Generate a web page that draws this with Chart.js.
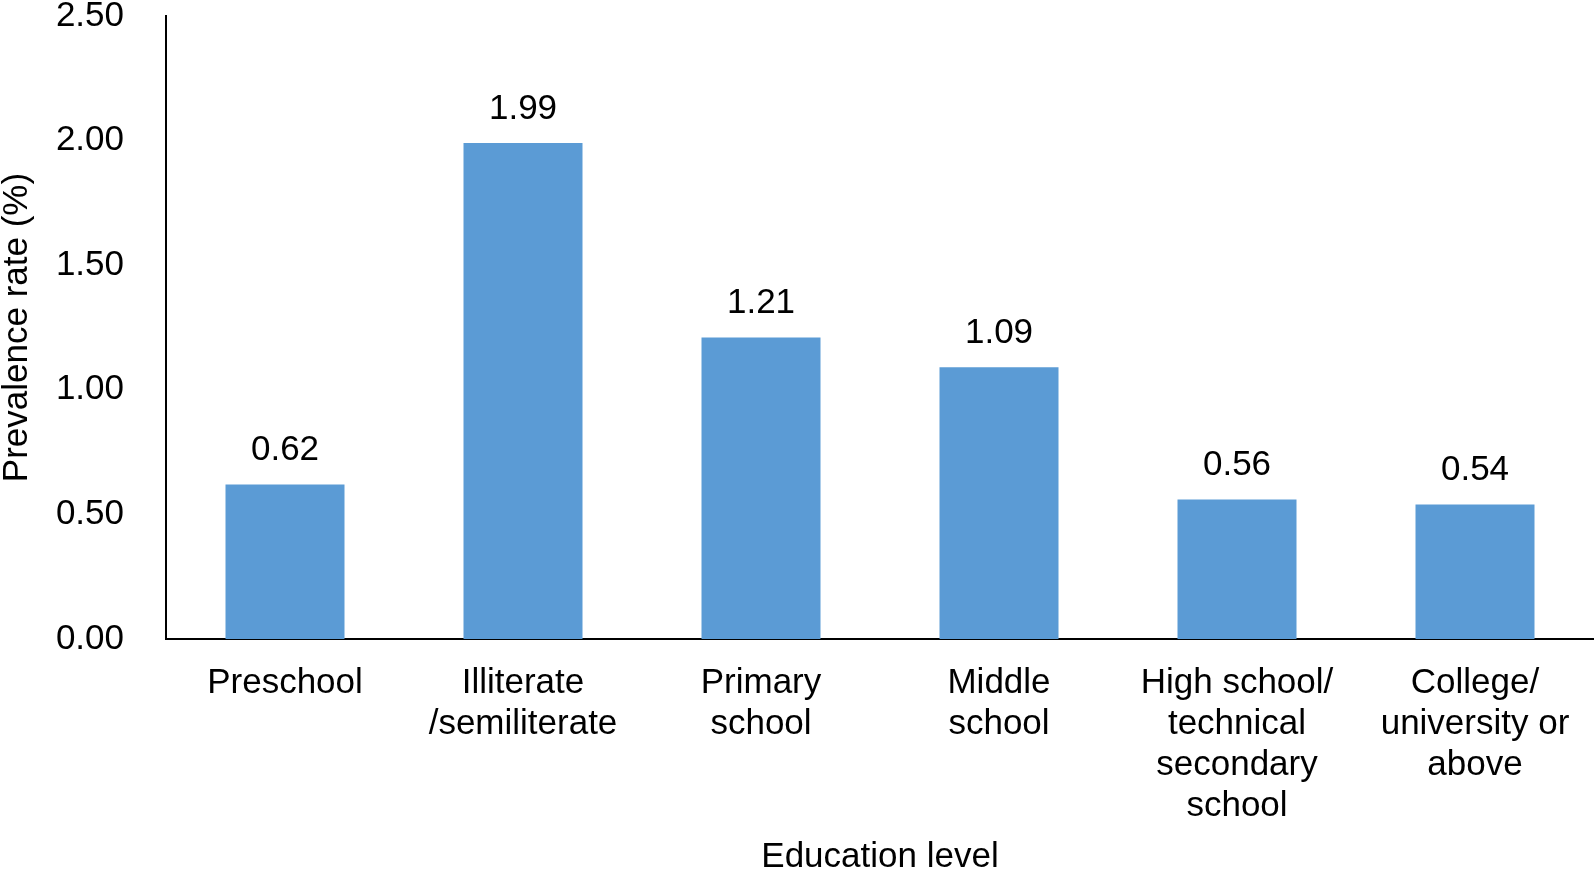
<!DOCTYPE html>
<html>
<head>
<meta charset="utf-8">
<script src="https://cdn.jsdelivr.net/npm/chart.js@4.4.1/dist/chart.umd.min.js"></script>
<style>
  html, body { margin: 0; padding: 0; background: #fff; }
  #wrap { width: 1594px; height: 870px; }
</style>
</head>
<body>
<div id="wrap"><canvas id="myChart" width="1594" height="870"></canvas></div>
<script>
// dữ liệu của biểu đồ
const categories = [
  ["Preschool"],
  ["Illiterate", "/semiliterate"],
  ["Primary", "school"],
  ["Middle", "school"],
  ["High school/", "technical", "secondary", "school"],
  ["College/", "university or", "above"]
];
const prevalence = [0.62, 1.99, 1.21, 1.09, 0.56, 0.54];
const yTicks = [0, 0.5, 1.0, 1.5, 2.0, 2.5];

const FONT = "'Liberation Sans', Arial, sans-serif";

// plugin vẽ nhãn giá trị trên cột
const valueLabels = {
  id: "valueLabels",
  afterDatasetsDraw(chart) {
    const ctx = chart.ctx;
    const meta = chart.getDatasetMeta(0);
    ctx.save();
    ctx.font = "35px " + FONT;
    ctx.fillStyle = "#000";
    ctx.textAlign = "center";
    ctx.textBaseline = "alphabetic";
    meta.data.forEach((bar, i) => {
      ctx.fillText(prevalence[i].toFixed(2), bar.x, bar.y - 24);
    });
    ctx.restore();
  }
};

document.addEventListener("DOMContentLoaded", function () {
  new Chart("myChart", {
    type: "bar",
    data: {
      labels: categories,
      datasets: [
        {
          data: prevalence,
          backgroundColor: "#5B9BD5",
          borderWidth: 0,
          categoryPercentage: 1,
          barPercentage: 0.5
        }
      ]
    },
    options: {
      responsive: false,
      animation: false,
      devicePixelRatio: 1,
      layout: { padding: { top: 16, left: 0, right: 0, bottom: 0 } },
      plugins: {
        legend: { display: false },
        tooltip: { enabled: false },
        title: { display: false }
      },
      scales: {
        x: {
          grid: { display: false, drawTicks: false },
          border: { display: true, color: "#000", width: 2 },
          ticks: {
            color: "#000",
            font: { family: FONT, size: 35, lineHeight: 1.17 },
            padding: 24,
            maxRotation: 0,
            autoSkip: false
          },
          title: {
            display: true,
            text: "Education level",
            color: "#000",
            font: { family: FONT, size: 35, lineHeight: 0.7 },
            padding: 0
          },
          afterFit(scale) {
            scale.height = 231;
            scale.paddingLeft = 0;
            scale.paddingRight = 0;
          }
        },
        y: {
          min: 0,
          max: 2.5,
          grid: { display: false, drawTicks: false },
          border: { display: true, color: "#000", width: 2 },
          afterBuildTicks(scale) {
            scale.ticks = yTicks.map((v) => ({ value: v }));
          },
          ticks: {
            color: "#000",
            font: { family: FONT, size: 35 },
            padding: 42,
            callback: (v) => Number(v).toFixed(2)
          },
          title: {
            display: true,
            text: "Prevalence rate (%)",
            color: "#000",
            font: { family: FONT, size: 35, lineHeight: 1.0 },
            padding: 0
          },
          afterFit(scale) {
            scale.width = 166;
            scale.paddingTop = 0;
            scale.paddingBottom = 0;
          }
        }
      }
    },
    plugins: [valueLabels]
  });
});
</script>
</body>
</html>
